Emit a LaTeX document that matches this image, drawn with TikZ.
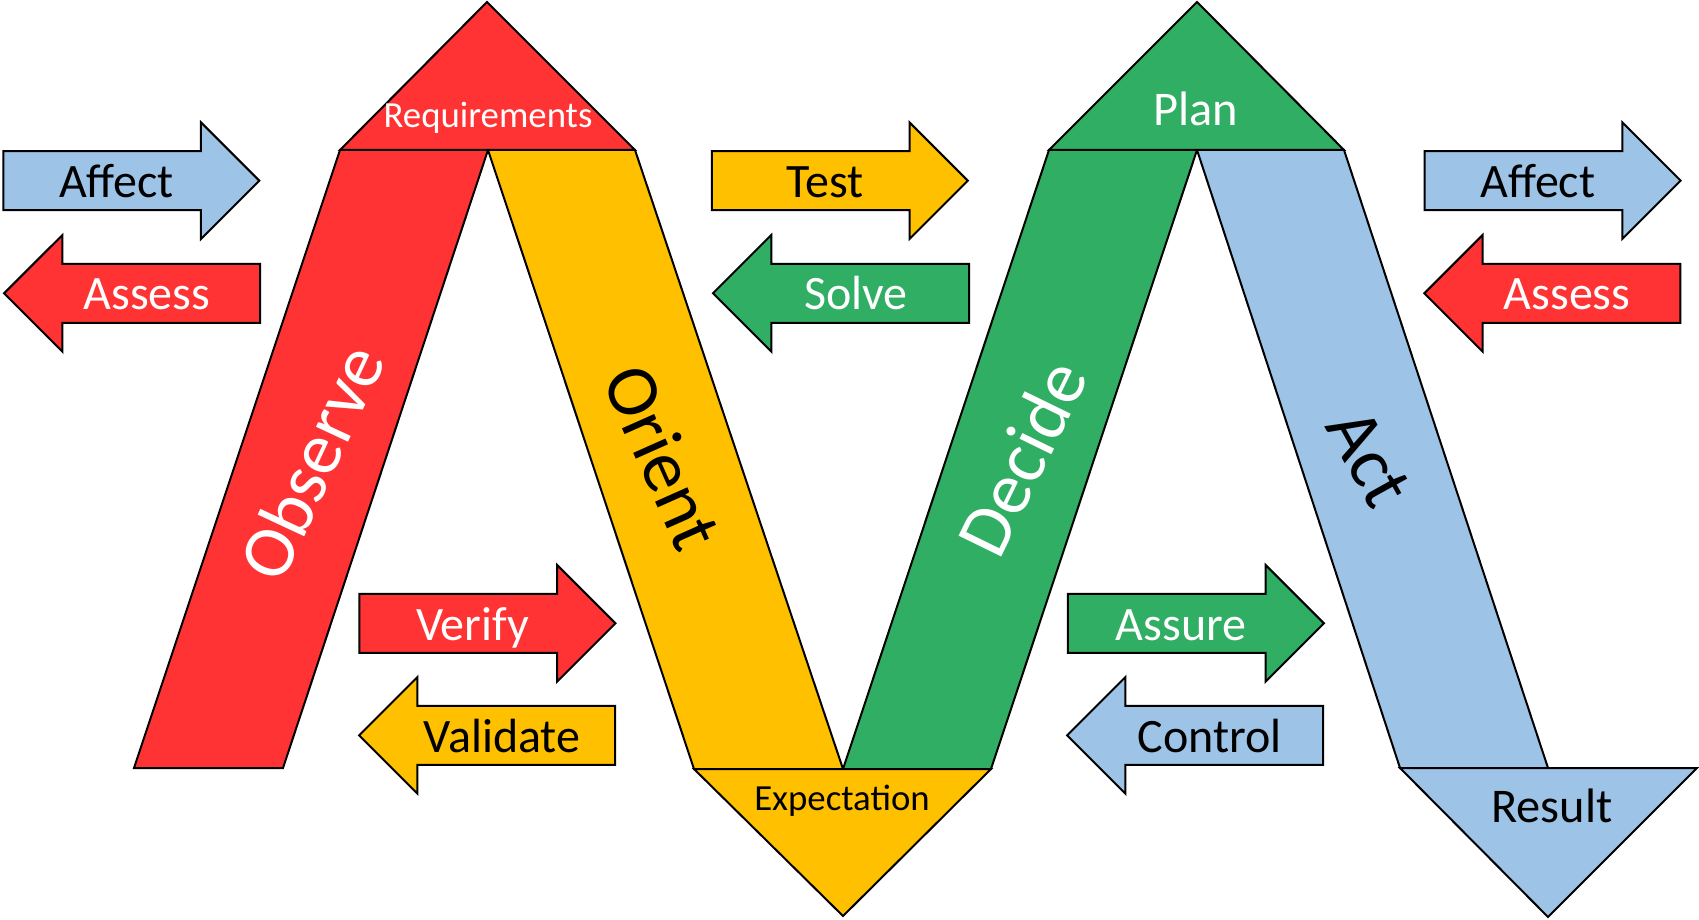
\documentclass[tikz,border=0pt]{standalone}
\usepackage{fontspec}
\setmainfont{Carlito}
\usetikzlibrary{shapes.arrows}
\definecolor{obsred}{RGB}{255,51,51}
\definecolor{oriorange}{RGB}{255,192,0}
\definecolor{decgreen}{RGB}{48,174,99}
\definecolor{actblue}{RGB}{157,195,230}
\tikzset{
  band/.style={draw=black, line width=0.5pt},
  goright/.style={single arrow, draw=black, line width=0.5pt, anchor=tip,
    minimum height=64pt, minimum width=28.6pt,
    single arrow head extend=7.2pt, inner xsep=0pt, inner ysep=0pt,
    text height=11.3pt, text depth=2.95pt,
    font=\fontsize{12}{14}\selectfont},
  goleft/.style={goright, shape border rotate=180},
  bandlabel/.style={inner sep=0pt, font=\fontsize{18.5}{22}\selectfont},
}
\begin{document}
\begin{tikzpicture}[x=0.25pt, y=-0.25pt]
				\useasboundingbox (0,0) rectangle (1699,919);
				%-- corners
				\coordinate (r1) at (340,150);
				\coordinate (r2) at (488,150);
				\coordinate (r3) at (635,150);
				\coordinate (rt) at (487,2);
				\coordinate (o1) at (134,768);
				\coordinate (o2) at (283,768);
				\coordinate (e1) at (694,769);
				\coordinate (e2) at (843,769);
				\coordinate (e3) at (991,769);
				\coordinate (et) at (843,916);
				\coordinate (p1) at (1049,150);
				\coordinate (p2) at (1197,150);
				\coordinate (p3) at (1344,150);
				\coordinate (pt) at (1197,2);
				\coordinate (a1) at (1400,768);
				\coordinate (a2) at (1548,768);
				\coordinate (a3) at (1697,768);
				\coordinate (at) at (1548,917);
				%-- bands
				\filldraw[band, fill=obsred] (r1) -- (r2) -- (o2) -- (o1) -- cycle;
				\filldraw[band, fill=oriorange] (r2) -- (r3) -- (e2) -- (e1) -- cycle;
				\filldraw[band, fill=decgreen] (e2) -- (e3) -- (p2) -- (p1) -- cycle;
				\filldraw[band, fill=actblue] (p2) -- (p3) -- (a2) -- (a1) -- cycle;
				%-- heads
				\filldraw[band, fill=obsred] (r1) -- (rt) -- (r3) -- cycle;
				\filldraw[band, fill=oriorange] (e1) -- (et) -- (e3) -- cycle;
				\filldraw[band, fill=decgreen] (p1) -- (pt) -- (p3) -- cycle;
				\filldraw[band, fill=actblue] (a1) -- (at) -- (a3) -- cycle;
				\node[anchor=base, text=white, font=\fontsize{9.2}{11}\selectfont] (req) at (488,127.7) {Requirements};
				\node[anchor=base, black, font=\fontsize{9.2}{11}\selectfont] (expect) at (842,810.7) {Expectation};
				\node[anchor=base, text=white, font=\fontsize{12.1}{14}\selectfont] (plan) at (1196,126) {Plan};
				\node[anchor=base, black, font=\fontsize{12.1}{14}\selectfont] (result) at (1552,822.7) {Result};
				%-- band labels
				\node[bandlabel, text=white, rotate=65] (observe) at (311,462) {Observe};
				\node[bandlabel, black, rotate=-66] (orient) at (663,457) {Orient};
				\node[bandlabel, text=white, rotate=64] (decide) at (1022,458) {Decide};
				\node[bandlabel, black, rotate=-61] (act) at (1369,458) {Act};
				%-- arrows
				\node[goright, fill=actblue] (affectl) at (260.7,180.7) {Affect};
				\node[goleft, fill=obsred, text=white] (assessl) at (2.7,293.3) {Assess};
				\node[goright, fill=oriorange] (test) at (969.2,180.7) {Test};
				\node[goleft, fill=decgreen, text=white] (solve) at (711.6,293.3) {Solve};
				\node[goright, fill=actblue] (affectr) at (1682,180.7) {Affect};
				\node[goleft, fill=obsred, text=white] (assessr) at (1422.9,293.3) {Assess};
				\node[goright, fill=obsred, text=white] (verify) at (616.8,623.3) {Verify};
				\node[goleft, fill=oriorange] (validate) at (357.7,735.3) {Validate};
				\node[goright, fill=decgreen, text=white] (assure) at (1325.3,623.3) {Assure};
				\node[goleft, fill=actblue] (control) at (1065.7,735.3) {Control};
			\end{tikzpicture}
\end{document}
